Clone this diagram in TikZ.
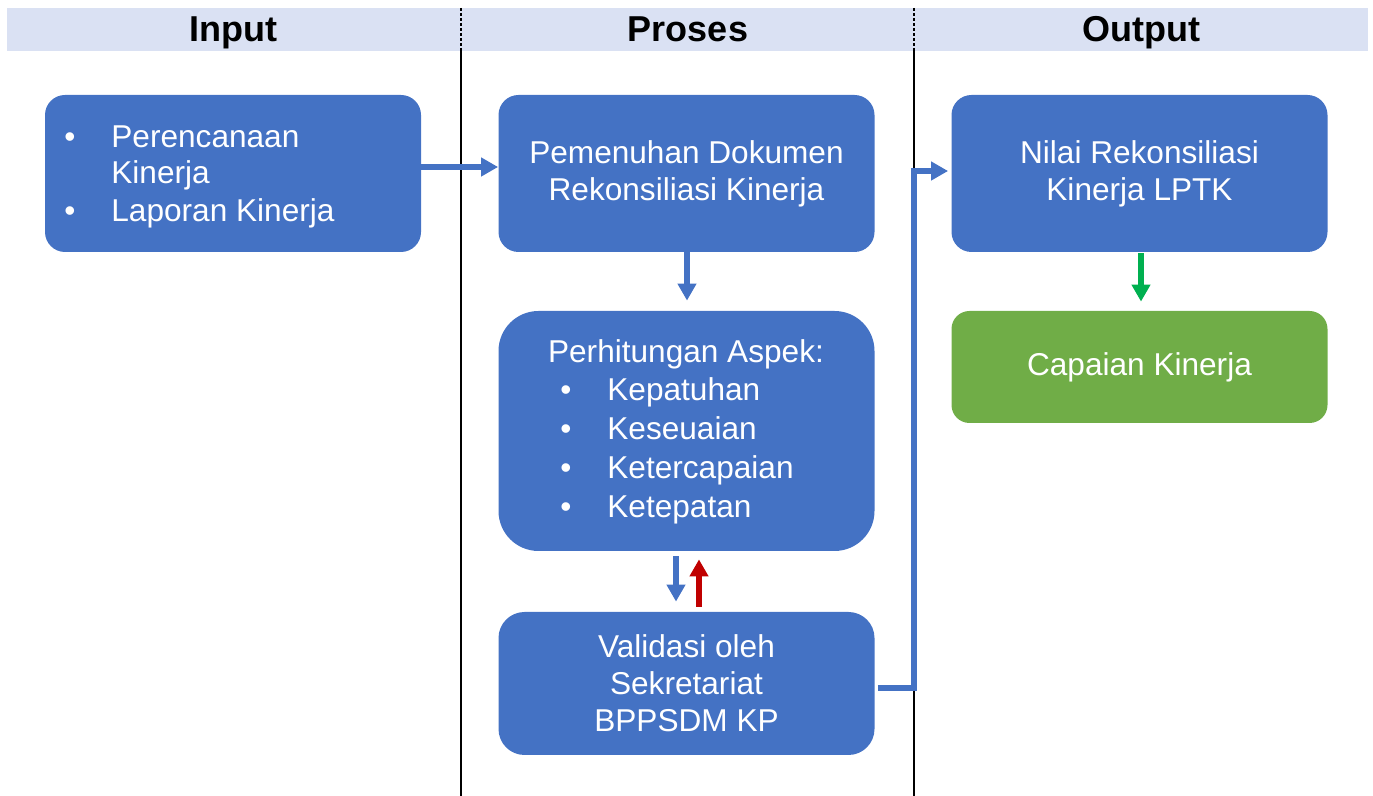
\documentclass[tikz,border=0pt]{standalone}
\usepackage{fontspec}
\setmainfont{Liberation Sans}
\usetikzlibrary{arrows.meta}
\definecolor{boxblue}{HTML}{4472C4}
\definecolor{boxgreen}{HTML}{70AD47}
\definecolor{hdr}{HTML}{DAE1F3}
\definecolor{arrgreen}{HTML}{00B050}
\definecolor{arrred}{HTML}{C00000}
\begin{document}
\begin{tikzpicture}[x=0.5pt,y=-0.5pt,
  box/.style={fill=boxblue, draw=none, rounded corners=10pt, text=white,
    font=\fontsize{15.8}{18.5}\selectfont, align=center, inner sep=0pt,
    minimum width=188pt, minimum height=78.5pt},
  btxt/.style={text=white, font=\fontsize{15.8}{18.5}\selectfont, inner sep=0pt, anchor=base west},
  bul/.style={text=white, font=\fontsize{15.8}{18.5}\selectfont, inner sep=0pt, anchor=base},
  hdrtxt/.style={font=\bfseries\fontsize{18}{20}\selectfont, inner sep=0pt, anchor=base},
  conn/.style={line width=2.75pt, -{Triangle[width=9pt,length=8.5pt]}},
  lane/.style={line width=1pt, black},
  lanehdr/.style={line width=0.6pt, black, dash pattern=on 1.5pt off 1pt}]
\useasboundingbox (0,0) rectangle (1373,796);
% header band
\fill[hdr] (7,8) rectangle (1368,51);
\node[hdrtxt] (hin) at (233,41.5) {Input};
\node[hdrtxt] (hpr) at (688,41.5) {Proses};
\node[hdrtxt] (hout) at (1141,41.5) {Output};
% lanes
\draw[lanehdr] (461,8) -- (461,51);
\draw[lanehdr] (914,8) -- (914,51);
\draw[lane] (461,51) -- (461,796);
\draw[lane] (914,51) -- (914,796);
% boxes
\node[box] (inp) at (233,173.5) {};
\node[bul] (b1) at (70,148) {•};
\node[btxt] (t1) at (111,148) {Perencanaan};
\node[btxt] (t1b) at (111,184) {Kinerja};
\node[bul] (b2) at (70,222) {•};
\node[btxt] (t2) at (111,222) {Laporan Kinerja};

\node[box] (pem) at (686.5,173.5) {Pemenuhan Dokumen\\Rekonsiliasi Kinerja};

\node[box, rounded corners=20pt, minimum height=120pt] (per) at (686.5,431) {};
\node[bul] (ptitle) at (686,363) {Perhitungan Aspek:};
\node[bul] (pb1) at (566,401) {•};
\node[btxt] (pt1) at (607,401) {Kepatuhan};
\node[bul] (pb2) at (566,440) {•};
\node[btxt] (pt2) at (607,440) {Keseuaian};
\node[bul] (pb3) at (566,479) {•};
\node[btxt] (pt3) at (607,479) {Ketercapaian};
\node[bul] (pb4) at (566,518) {•};
\node[btxt] (pt4) at (607,518) {Ketepatan};

\node[box, rounded corners=13pt, minimum height=71.5pt] (val) at (686.5,683.5) {Validasi oleh\\Sekretariat\\BPPSDM KP};

\node[box] (nil) at (1139.5,173.5) {Nilai Rekonsiliasi\\Kinerja LPTK};
\node[box, fill=boxgreen, rounded corners=9pt, minimum height=56pt] (cap) at (1139.5,367) {Capaian Kinerja};

% connectors
\coordinate (cx) at (914,0);
\draw[conn, boxblue] ([yshift=3.25pt]inp.east) -- ([yshift=3.25pt]pem.west);
\draw[conn, boxblue, shorten >=5pt] ([xshift=0.25pt]pem.south) -- ([xshift=0.25pt]per.north);
\draw[conn, boxblue, shorten <=2.5pt, shorten >=5pt] ([xshift=-5.25pt]per.south) -- ([xshift=-5.25pt]val.north);
\draw[conn, arrred, shorten <=2.5pt, shorten >=4pt] ([xshift=6.25pt]val.north) -- ([xshift=6.25pt]per.south);
\draw[conn, boxblue, shorten <=1.5pt, shorten >=1.5pt]
  ([yshift=-2.25pt]val.east) -| ([yshift=1.25pt]nil.west -| cx) -- ([yshift=1.25pt]nil.west);
\draw[conn, arrgreen, shorten <=0.5pt, shorten >=4.5pt] ([xshift=0.75pt]nil.south) -- ([xshift=0.75pt]cap.north);
\end{tikzpicture}
\end{document}
